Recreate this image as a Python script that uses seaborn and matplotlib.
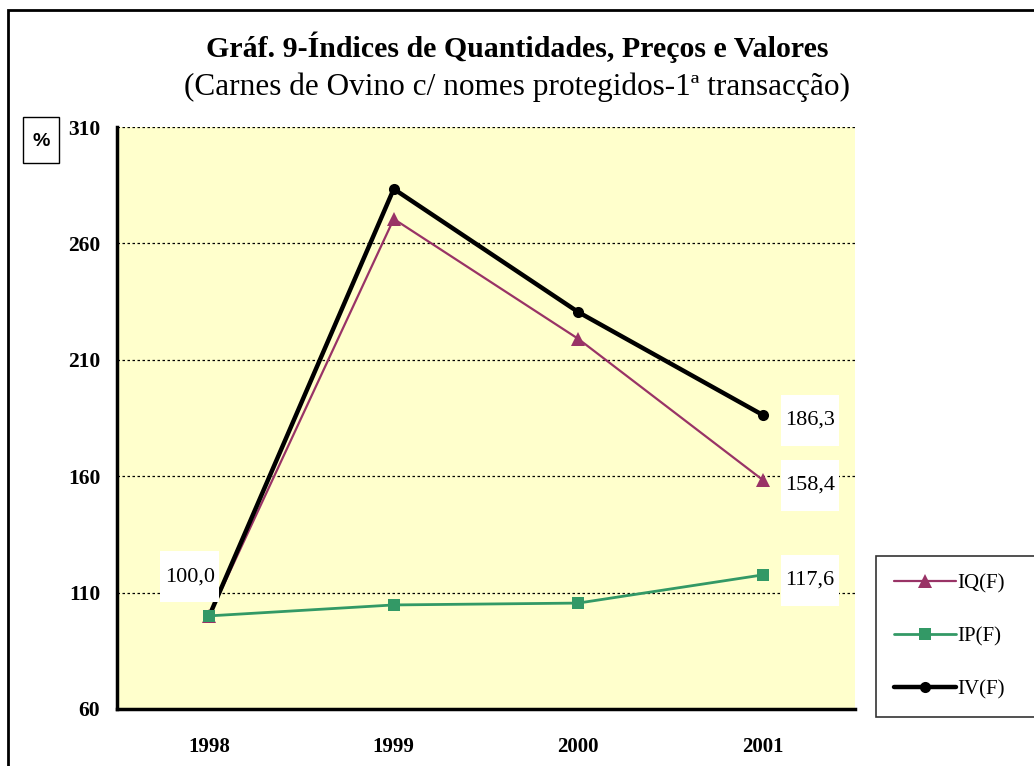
import numpy as np
import pandas as pd
import seaborn as sns
import matplotlib.pyplot as plt
from matplotlib.patches import Rectangle

years = ["1998", "1999", "2000", "2001"]
iq = [100.0, 270.5, 219.0, 158.4]
ip = [100.0, 104.7, 105.5, 117.6]
iv = [100.0, 283.4, 230.5, 186.3]
series = ["IQ(F)", "IP(F)", "IV(F)"]
y_ticks = [60, 110, 160, 210, 260, 310]

df = pd.DataFrame({
    "pos": list(range(len(years))) * 3,
    "value": iq + ip + iv,
    "serie": np.repeat(series, len(years)),
})

sns.set_style("white")
plt.rcParams['font.family'] = ['Liberation Serif', 'DejaVu Serif']
plt.rcParams['text.color'] = 'black'
plt.rcParams['xtick.color'] = 'black'
plt.rcParams['ytick.color'] = 'black'

W, H = 1034, 766
fig = plt.figure(figsize=(W / 100, H / 100), dpi=100)
ax = fig.add_axes([117 / W, 1 - 709 / H, 738 / W, 582 / H])
ax.set_facecolor("#FFFFCC")

palette = {"IQ(F)": "#993366", "IP(F)": "#339966", "IV(F)": "#000000"}
markers = {"IQ(F)": "^", "IP(F)": "s", "IV(F)": "o"}
widths = {"IQ(F)": 1.6, "IP(F)": 2.0, "IV(F)": 3.2}
msizes = {"IQ(F)": 10, "IP(F)": 9, "IV(F)": 8}

# IP drawn last: its square sits on top of the 1998 start point
for s in ["IQ(F)", "IV(F)", "IP(F)"]:
    sub = df[df["serie"] == s]
    sns.lineplot(data=sub, x="pos", y="value", ax=ax, color=palette[s],
                 marker=markers[s], markersize=msizes[s], linewidth=widths[s],
                 markeredgewidth=0, label=s, legend=False, zorder=3)

ax.set_xlim(-0.5, len(years) - 0.5)
ax.set_ylim(y_ticks[0], y_ticks[-1])
ax.set_yticks(y_ticks)
ax.set_yticklabels([str(t) for t in y_ticks], fontweight="bold", fontsize=15.5)
ax.set_xticks(range(len(years)))
ax.set_xticklabels(years, fontweight="bold", fontsize=15)
ax.set_xticks(np.arange(-0.5, len(years), 1.0), minor=True)
ax.tick_params(axis="x", which="major", length=0, pad=20)
ax.tick_params(axis="x", which="minor", length=6, width=2, direction="out")
ax.tick_params(axis="y", length=6, width=2, direction="out", pad=6)
ax.set_xlabel("")
ax.set_ylabel("")

for t in y_ticks[1:]:
    ax.axhline(t, color="black", linestyle=(0, (2, 2)), linewidth=0.9, zorder=1)

for side in ["top", "right"]:
    ax.spines[side].set_visible(False)
for side in ["left", "bottom"]:
    ax.spines[side].set_color("black")
    ax.spines[side].set_linewidth(2.5)

box = dict(boxstyle="square,pad=0.2", mutation_aspect=3.6,
           facecolor="white", edgecolor="none")
last = len(years) - 1
for vals in [iv, iq, ip]:
    ax.annotate(f"{vals[-1]:.1f}".replace(".", ","), (last, vals[-1]),
                xytext=(34, -4), textcoords="offset points", ha="center",
                va="center", fontsize=16, bbox=box, zorder=5)
ax.annotate(f"{iq[0]:.1f}".replace(".", ","), (0, iq[0]),
            xytext=(-14, 28), textcoords="offset points", ha="center",
            va="center", fontsize=16, bbox=box, zorder=5)

fig.text(0.5, 1 - 47 / H, "Gráf. 9-Índices de Quantidades, Preços e Valores",
         ha="center", va="center", fontsize=21.5, fontweight="bold")
fig.text(0.5, 1 - 87 / H, "(Carnes de Ovino c/ nomes protegidos-1ª transacção)",
         ha="center", va="center", fontsize=22.5)

# "%" unit box
fig.patches.append(Rectangle((23 / W, 1 - 163 / H), 36 / W, 46 / H,
                             transform=fig.transFigure, facecolor="white",
                             edgecolor="black", linewidth=1))
fig.text(41 / W, 1 - 141 / H, "%", ha="center", va="center", fontsize=14,
         fontweight="bold", family=["Liberation Sans", "DejaVu Sans"])

# outer frame of the chart
fig.patches.append(Rectangle((8 / W, -0.05), 1.1, 1.05 - 10 / H,
                             transform=fig.transFigure, fill=False,
                             edgecolor="black", linewidth=2))

# legend box runs off the right edge, as in the source
handles, labels = ax.get_legend_handles_labels()
order = [labels.index(s) for s in series]
leg = fig.legend([handles[i] for i in order], [labels[i] for i in order],
                 loc="upper left",
                 bbox_to_anchor=(876 / W, 1 - 717 / H, 200 / W, 161 / H),
                 mode="expand", frameon=True, fancybox=False,
                 edgecolor="black", fontsize=15, handlelength=3.0,
                 handletextpad=0.05, labelspacing=1.6, borderpad=0.85,
                 borderaxespad=0)
leg.get_frame().set_linewidth(1.2)

fig.savefig("out.png", dpi=100)
